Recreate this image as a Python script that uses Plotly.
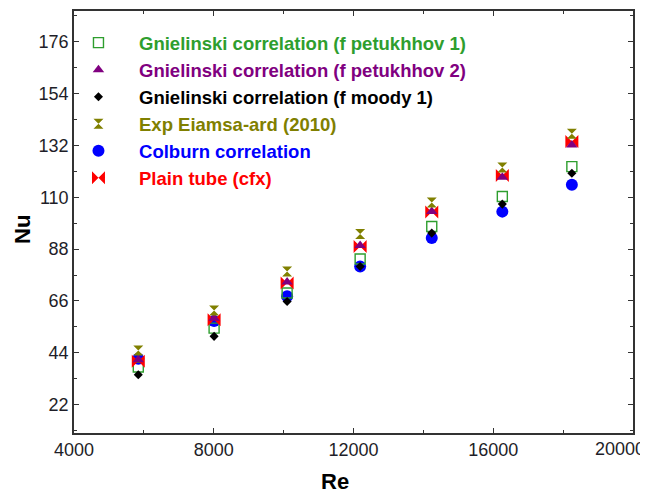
import plotly.graph_objects as go

re_vals = [5840, 8010, 10100, 12190, 14240, 16260, 18250]

nu_pet1 = [38.0, 54.5, 69.4, 83.8, 97.6, 110.3, 123.0]
nu_pet2 = [41.1, 58.7, 74.0, 89.5, 104.0, 118.5, 132.2]
nu_moody = [34.7, 51.0, 65.8, 80.6, 94.8, 107.1, 120.2]
nu_exp = [45.0, 62.0, 78.5, 94.4, 107.8, 122.6, 136.9]
nu_colburn = [41.5, 57.5, 68.0, 80.6, 92.7, 103.9, 115.3]
nu_cfx = [40.4, 58.0, 73.6, 89.1, 103.7, 119.2, 133.6]

x_ticks = [4000, 8000, 12000, 16000, 20000]
y_ticks = [22, 44, 66, 88, 110, 132, 154, 176]

series = [
    ("Gnielinski correlation (f petukhhov 1)", nu_pet1, "#2E9E2E", "square-open", 10),
    ("Gnielinski correlation (f petukhhov 2)", nu_pet2, "#800080", "triangle-up", 10),
    ("Gnielinski correlation (f moody 1)", nu_moody, "#000000", "diamond", 7),
    ("Exp Eiamsa-ard (2010)", nu_exp, "#808000", "hourglass", 10),
    ("Colburn correlation", nu_colburn, "#0000FF", "circle", 12),
    ("Plain tube (cfx)", nu_cfx, "#FF0000", "bowtie", 13),
]

draw_order = [4, 0, 2, 5, 1, 3]
pad = "&nbsp;" * 4
FONT = "Liberation Sans, Arial"
TICKFONT = dict(family=FONT, size=18, color="#1e1e28")

fig = go.Figure()
for i in draw_order:
    name, ys, col, sym, sz = series[i]
    fig.add_trace(go.Scatter(
        x=re_vals, y=ys, mode="markers",
        name=f"{pad}<span style='color:{col}'><b>{name}</b></span>",
        legendgroup=f"g{i}", legendrank=i + 1,
        marker=dict(symbol=sym, size=sz, color=col,
                    line=dict(color=col, width=1.4 if sym == "square-open" else 0)),
    ))

axis_common = dict(
    showline=True, linecolor="#333333", linewidth=1.5, mirror="ticks",
    ticks="inside", ticklen=5, tickwidth=1, tickcolor="#333333",
    showgrid=False, zeroline=False, automargin=False,
    tickfont=TICKFONT,
)

# the last x label sits at the page edge: it is drawn right-aligned below its tick
x_ticktext = [str(v) for v in x_ticks[:-1]] + [""]

fig.update_xaxes(
    range=[4000, 20000], tickvals=x_ticks, ticktext=x_ticktext,
    minor=dict(dtick=2000, tick0=4000, ticks="inside", ticklen=3, tickcolor="#333333"),
    **axis_common,
)
fig.update_yaxes(
    range=[10, 189], tickvals=y_ticks, ticktext=[str(v) for v in y_ticks],
    minor=dict(dtick=11, tick0=0, ticks="inside", ticklen=3, tickcolor="#333333"),
    **axis_common,
)

# The page body has an 8px default margin, so the figure is sized 8px smaller
fig.update_layout(
    width=640, height=487,
    margin=dict(l=66, r=15, t=3, b=62),
    plot_bgcolor="white", paper_bgcolor="white",
    showlegend=True,
    legend=dict(
        x=0.008, y=0.969, xanchor="left", yanchor="top",
        bgcolor="rgba(0,0,0,0)", borderwidth=0,
        font=dict(family=FONT, size=18.5),
        traceorder="grouped", tracegroupgap=0,
        itemsizing="trace",
    ),
    annotations=[
        dict(text=str(x_ticks[-1]), xref="x", yref="paper", x=x_ticks[-1], y=0,
             xanchor="right", yanchor="middle", xshift=14, yshift=-16,
             showarrow=False, font=TICKFONT),
        dict(text="<b>Re</b>", xref="paper", yref="paper", x=(335 - 74) / 559, y=-(481 - 433) / 422,
             xanchor="center", yanchor="middle", showarrow=False,
             font=dict(family=FONT, size=22, color="#000")),
        dict(text="<b>Nu</b>", xref="paper", yref="paper", x=-(74 - 22) / 559, y=(433 - 230) / 422,
             xanchor="center", yanchor="middle", showarrow=False, textangle=-90,
             font=dict(family=FONT, size=22, color="#000")),
    ],
)

fig.write_html("out.html")
